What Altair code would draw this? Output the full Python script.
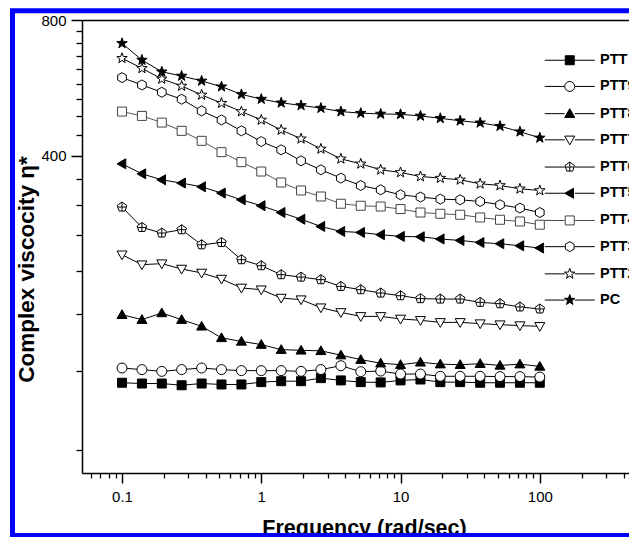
import altair as alt
import pandas as pd

freq = [0.1, 0.139, 0.193, 0.268, 0.373, 0.518, 0.720, 1.0, 1.39, 1.93, 2.68,
        3.73, 5.18, 7.20, 10.0, 13.9, 19.3, 26.8, 37.3, 51.8, 72.0, 100.0]

series = ["PTT", "PTT90", "PTT80", "PTT70", "PTT60", "PTT50", "PTT40", "PTT30", "PTT20", "PC"]

ptt = [125.3, 124.8, 124.8, 123.7, 124.8, 124.2, 124.2, 125.7, 126.3, 126.3, 128.3,
       126.8, 125.7, 125.5, 126.8, 127.4, 125.7, 125.7, 125.3, 125.3, 125.3, 125.3]
ptt90 = [135.1, 134.0, 132.8, 134.0, 135.1, 134.0, 133.3, 133.3, 133.3, 132.8, 134.0,
         136.7, 132.6, 133.0, 131.0, 131.0, 129.5, 129.5, 129.5, 129.3, 129.3, 129.0]
ptt80 = [177.4, 173.0, 179.0, 173.0, 167.2, 157.6, 154.8, 152.3, 148.4, 147.9, 147.5,
         144.3, 141.0, 138.5, 137.4, 139.1, 137.8, 137.4, 138.1, 136.9, 137.8, 136.2]
ptt70 = [241.0, 229.1, 230.3, 224.1, 219.6, 212.9, 203.4, 201.6, 193.2, 191.6, 183.9,
         179.5, 175.9, 175.9, 173.6, 172.4, 170.6, 170.6, 169.5, 168.6, 167.8, 167.2]
ptt60 = [307.6, 277.1, 269.3, 273.9, 253.6, 256.6, 235.0, 227.9, 217.7, 215.0, 212.2,
         205.0, 201.6, 198.2, 195.5, 192.6, 192.2, 192.2, 189.0, 187.7, 184.6, 182.7]
ptt50 = [383.6, 364.5, 353.5, 347.6, 341.1, 330.3, 319.2, 309.6, 299.1, 289.0, 278.5,
         271.5, 270.1, 267.0, 264.7, 264.2, 261.2, 259.3, 256.6, 255.0, 252.3, 249.4]
ptt40 = [501.0, 490.0, 473.6, 454.0, 431.4, 407.2, 386.9, 368.8, 348.7, 334.7, 324.6,
         312.8, 309.6, 308.4, 304.4, 299.1, 297.2, 295.7, 291.6, 288.2, 285.7, 281.0]
ptt30 = [595.9, 574.0, 553.0, 533.6, 502.7, 480.0, 454.0, 429.8, 412.0, 389.5, 372.0,
         356.6, 343.4, 335.9, 327.4, 323.7, 320.3, 319.2, 316.4, 311.2, 306.0, 299.1]
ptt20 = [658.0, 625.0, 592.0, 571.0, 545.5, 523.0, 501.0, 480.0, 456.0, 436.0, 414.0,
         393.5, 383.6, 372.0, 367.0, 359.5, 356.6, 353.5, 346.4, 343.4, 337.6, 334.7]
pc = [710.0, 652.0, 614.0, 601.0, 586.0, 569.0, 547.0, 534.0, 524.0, 517.0, 510.0,
      501.0, 497.0, 495.0, 494.0, 490.0, 484.0, 478.0, 473.0, 465.0, 452.0, 438.0]

values = [ptt, ptt90, ptt80, ptt70, ptt60, ptt50, ptt40, ptt30, ptt20, pc]

x_major = [0.1, 1, 10, 100]
x_minor = [0.06, 0.07, 0.08, 0.09, 0.2, 0.3, 0.4, 0.5, 0.6, 0.7, 0.8, 0.9,
           2, 3, 4, 5, 6, 7, 8, 9, 20, 30, 40, 50, 60, 70, 80, 90, 200, 300, 400]
y_major = [400, 800]
y_minor = [755.56, 711.11, 666.67, 622.22, 577.78, 533.33, 488.89, 444.44,
           355.56, 311.11, 266.67, 222.22, 177.78, 133.33, 88.89]

rows = []
for name, vals in zip(series, values):
    for f, v in zip(freq, vals):
        rows.append({"freq": f, "eta": v, "series": name})
df = pd.DataFrame(rows)

# marker shapes (unit square paths)
SQ = "M-0.9,-0.9L0.9,-0.9L0.9,0.9L-0.9,0.9Z"
CI = "M1,0A1,1,0,1,1,-1,0A1,1,0,1,1,1,0Z"
TU = "M0,-1L1,0.75L-1,0.75Z"
TD = "M-1,-0.75L1,-0.75L0,1Z"
PE = ("M0,-1L0.951,-0.309L0.588,0.809L-0.588,0.809L-0.951,-0.309Z"
      "M0,-1L0,0.809M-0.851,0L0.851,0")
TL = "M-1,0L0.75,-1L0.75,1Z"
HX = "M0,-1L0.866,-0.5L0.866,0.5L0,1L-0.866,0.5L-0.866,-0.5Z"
ST = ("M0,-1.1L0.259,-0.356L1.046,-0.34L0.418,0.136L0.647,0.89L0,0.44"
      "L-0.647,0.89L-0.418,0.136L-1.046,-0.34L-0.259,-0.356Z")
shapes = [SQ, CI, TU, TD, PE, TL, SQ, HX, ST, ST]
fills = ["black", "white", "black", "white", "white", "black", "white", "white", "white", "black"]
strokes = ["black"] * 6 + ["#444444"] + ["black"] * 3
line_colors = ["black"] * 6 + ["#555555"] + ["black"] * 3
LEG = "M-5,0L-1,0M1,0L5,0"
legend_shapes = [s + LEG for s in shapes]

FONT = "Liberation Sans"
NARROW = "Liberation Sans Narrow, Liberation Sans"

xscale = alt.Scale(type="log", domain=[0.0516, 437], nice=False)
yscale = alt.Scale(type="log", domain=[79, 800], nice=False)

base = alt.Chart(df)

lines = base.mark_line(strokeWidth=1).encode(
    x=alt.X("freq:Q", scale=xscale, axis=alt.Axis(
        orient="bottom", values=x_major, format="~g", tickSize=10, tickWidth=1.5,
        domainWidth=1.5, domainColor="black", tickColor="black",
        labelFont=FONT, labelFontSize=15, labelColor="black", labelPadding=6,
        labelFlush=False, labelOverlap=False, grid=False,
        title="Frequency (rad/sec)", titleFont=FONT, titleFontSize=21.5,
        titleFontWeight="bold", titleColor="black", titleX=282, titleY=61,
        titleAlign="center", titleBaseline="alphabetic")),
    y=alt.Y("eta:Q", scale=yscale, axis=alt.Axis(
        orient="left", values=y_major, tickSize=11, tickWidth=1.5,
        domainWidth=1.5, domainColor="black", tickColor="black",
        labelFont=FONT, labelFontSize=15, labelColor="black", labelPadding=5,
        labelFlush=False, labelOverlap=False, grid=False,
        title="Complex viscocity η*", titleFont=FONT, titleFontSize=22.5,
        titleFontWeight="bold", titleColor="black", titleX=-56, titleY=249,
        titleAngle=270, titleAlign="center", titleBaseline="middle")),
    detail="series:N",
    color=alt.Color("series:N", scale=alt.Scale(domain=series, range=line_colors), legend=None),
)

points = base.mark_point(size=100, strokeWidth=1, opacity=1).encode(
    x=alt.X("freq:Q", scale=xscale, axis=alt.Axis(
        orient="bottom", values=x_minor, labels=False, tickSize=5, tickWidth=1.3,
        tickColor="black", domain=False, grid=False, title=None)),
    y=alt.Y("eta:Q", scale=yscale, axis=alt.Axis(
        orient="left", values=y_minor, labels=False, tickSize=6, tickWidth=1.3,
        tickColor="black", domain=False, grid=False, title=None)),
    shape=alt.Shape("series:N", scale=alt.Scale(domain=series, range=shapes), legend=None),
    fill=alt.Fill("series:N", scale=alt.Scale(domain=series, range=fills), legend=None),
    stroke=alt.Stroke("series:N", scale=alt.Scale(domain=series, range=strokes), legend=None),
)

leg = alt.Legend(orient="none", legendX=480.5, legendY=33, title=None,
                 labelFont=NARROW, labelFontSize=14.5, labelFontWeight="bold",
                 labelColor="black", symbolSize=100, symbolStrokeWidth=1,
                 symbolOpacity=1, rowPadding=11.2,
                 labelOffset=23, padding=0, labelLimit=300)

legend_layer = base.transform_filter("false").mark_point(
    size=100, strokeWidth=1, opacity=1).encode(
    x=alt.X("freq:Q", scale=xscale, axis=alt.Axis(
        orient="top", labels=False, ticks=False, domain=True, domainWidth=1.5,
        domainColor="black", grid=False, title=None)),
    y=alt.Y("eta:Q", scale=yscale, axis=None),
    shape=alt.Shape("series:N", scale=alt.Scale(domain=series, range=legend_shapes), legend=leg),
    fill=alt.Fill("series:N", scale=alt.Scale(domain=series, range=fills), legend=leg),
    stroke=alt.Stroke("series:N", scale=alt.Scale(domain=series, range=strokes), legend=leg),
)

one = pd.DataFrame({"k": [0]})
frame = alt.Chart(one).mark_rect(fill="transparent", stroke="#0000ff", strokeWidth=5).encode(
    x=alt.value(-69.5), x2=alt.value(620), y=alt.value(-9.2), y2=alt.value(515.5))

chart = alt.layer(lines, points, legend_layer, frame).resolve_scale(
    shape="independent", fill="independent", color="independent", stroke="independent"
).resolve_axis(
    x="independent", y="independent"
).properties(
    width=547, height=453,
    autosize=alt.AutoSizeParams(type="none"),
    padding={"left": 74, "top": 12, "right": 0, "bottom": 64},
    background="white",
).configure_view(stroke=None)

chart.save("out.html", embed_options={"renderer": "svg", "actions": False})
